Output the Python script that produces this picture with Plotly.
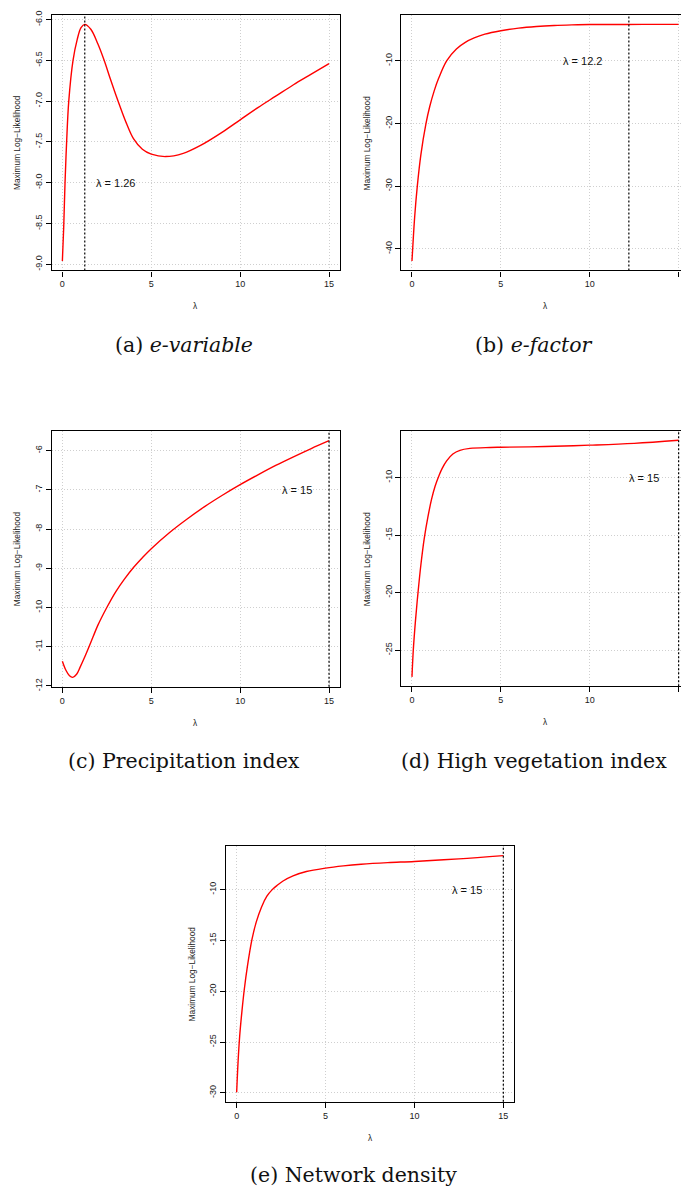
import plotly.graph_objects as go

FIG_W, FIG_H = 681, 1193

# Profile of the maximum log-likelihood over the Box-Cox parameter lambda
lam_evar = [0, 0.075, 0.15, 0.24, 0.36, 0.6, 0.83, 1.05, 1.26, 1.6, 2.0, 2.35, 2.7, 3.0,
            3.3, 3.6, 4.0, 4.5, 5.0, 5.8, 6.8, 7.8, 9.0, 10.0, 11.0, 12.0, 13.0, 14.0, 15.0]
ll_evar = [-8.96, -8.55, -8.0, -7.5, -7.0, -6.5, -6.25, -6.1, -6.06, -6.12, -6.3, -6.5, -6.73,
           -6.92, -7.1, -7.27, -7.46, -7.59, -7.65, -7.68, -7.64, -7.54, -7.38, -7.23, -7.08,
           -6.94, -6.8, -6.67, -6.54]

lam_efac = [0, 0.04, 0.15, 0.3, 0.5, 0.79, 1.0, 1.25, 1.5, 1.95, 2.5, 3.0, 3.5, 4.1, 5.0,
            6.0, 7.0, 8.0, 9.0, 10.0, 11.5, 13.0, 15.0]
ll_efac = [-41.95, -40.0, -35.0, -30.0, -25.0, -20.0, -17.3, -14.8, -12.8, -10.0, -8.1, -7.05,
           -6.35, -5.75, -5.2, -4.78, -4.52, -4.36, -4.27, -4.22, -4.2, -4.19, -4.19]

lam_prec = [0, 0.2, 0.4, 0.58, 0.8, 1.0, 1.25, 1.5, 1.75, 2.0, 2.5, 3.0, 3.5, 4.0, 4.5, 5.0,
            6.0, 7.0, 8.0, 9.0, 10.0, 11.0, 12.0, 13.0, 14.0, 15.0]
ll_prec = [-11.37, -11.6, -11.74, -11.78, -11.7, -11.52, -11.27, -11.0, -10.72, -10.45, -10.0,
           -9.6, -9.27, -8.98, -8.73, -8.5, -8.1, -7.75, -7.43, -7.14, -6.87, -6.62, -6.38,
           -6.16, -5.95, -5.75]

lam_veg = [0, 0.075, 0.2, 0.34, 0.5, 0.69, 0.9, 1.1, 1.3, 1.54, 1.7, 1.95, 2.3, 2.7, 3.26,
           4.4, 5.0, 7.5, 10.0, 12.5, 15.0]
ll_veg = [-27.33, -25.0, -22.4, -20.0, -17.6, -15.3, -13.4, -11.9, -10.75, -9.75, -9.2, -8.55,
          -7.95, -7.63, -7.46, -7.38, -7.36, -7.3, -7.18, -7.02, -6.75]

lam_net = [0, 0.08, 0.17, 0.3, 0.43, 0.6, 0.86, 1.1, 1.4, 1.7, 2.0, 2.3, 2.61, 3.17, 3.92,
           5.0, 6.0, 7.0, 8.5, 10.0, 12.5, 15.0]
ll_net = [-29.93, -26.9, -24.4, -21.9, -19.8, -17.6, -14.9, -13.2, -11.7, -10.65, -10.0, -9.55,
          -9.15, -8.65, -8.22, -7.88, -7.66, -7.5, -7.34, -7.23, -6.97, -6.65]

# Maximising lambda for each covariate
lam_opt = [1.26, 12.2, 15, 15, 15]

captions = ["(a) <i>e-variable</i>", "(b) <i>e-factor</i>", "(c) Precipitation index",
            "(d) High vegetation index", "(e) Network density"]

x_ticks = [0, 5, 10, 15]
x_ticktext = ["0", "5", "10", "15"]
y_ticks = [
    [-9.0, -8.5, -8.0, -7.5, -7.0, -6.5, -6.0],
    [-40, -30, -20, -10],
    [-12, -11, -10, -9, -8, -7, -6],
    [-25, -20, -15, -10],
    [-30, -25, -20, -15, -10],
]
y_ticktext = [
    ["-9.0", "-8.5", "-8.0", "-7.5", "-7.0", "-6.5", "-6.0"],
    ["-40", "-30", "-20", "-10"],
    ["-12", "-11", "-10", "-9", "-8", "-7", "-6"],
    ["-25", "-20", "-15", "-10"],
    ["-30", "-25", "-20", "-15", "-10"],
]

series = [(lam_evar, ll_evar), (lam_efac, ll_efac), (lam_prec, ll_prec),
          (lam_veg, ll_veg), (lam_net, ll_net)]

# where the "lambda = ..." note sits, in data units
note_pos = [(3.0, -8.0), (9.6, -10.0), (13.2, -7.0), (13.05, -10.0), (12.97, -10.0)]

# plot-region boxes in pixels: left, top (width and height shared)
BOX_W, BOX_H = 288.0, 257.5
boxes = [(51.7, 10.0), (401.3, 10.0), (51.7, 429.5), (401.3, 429.0), (226.0, 847.5)]
caption_xy = [(184, 343), (534, 343), (184, 762), (534, 762), (353, 1179)]

TICK_FONT = dict(family="Liberation Sans, Arial, sans-serif", size=9, color="#1a1a1a")
LAB_FONT = dict(family="Liberation Sans, Arial, sans-serif", size=8.3, color="#1a1a1a")
NOTE_FONT = dict(family="Liberation Sans, Arial, sans-serif", size=11, color="#111111")
CAP_FONT = dict(family="DejaVu Serif, serif", size=20.5, color="#111111")


def padded(lo, hi, frac=0.04):
    d = (hi - lo) * frac
    return lo - d, hi + d


fig = go.Figure()
layout = dict(width=FIG_W, height=FIG_H, margin=dict(l=0, r=0, t=0, b=0),
              paper_bgcolor="white", plot_bgcolor="white", showlegend=False)
annotations = []
shapes = []

for i, ((lam, ll), (left, top)) in enumerate(zip(series, boxes)):
    n = i + 1
    xname = "x" if n == 1 else f"x{n}"
    yname = "y" if n == 1 else f"y{n}"

    x0, x1 = padded(min(lam), max(lam))
    y0, y1 = padded(min(ll), max(ll))
    right = left + BOX_W
    clipped = right > FIG_W
    if clipped:
        # right-hand column runs off the page edge
        x1 = x0 + (x1 - x0) * (FIG_W - left) / BOX_W
        right = FIG_W

    common = dict(showline=True, linecolor="black", linewidth=1.3,
                  ticks="outside", ticklen=5, tickwidth=1, tickcolor="black",
                  showgrid=True, gridcolor="#cfcfcf", griddash="1px,2px", gridwidth=1,
                  zeroline=False, tickfont=TICK_FONT)
    layout["xaxis" if n == 1 else f"xaxis{n}"] = dict(
        domain=[left / FIG_W, right / FIG_W], range=[x0, x1], anchor=yname,
        tickmode="array", tickvals=x_ticks, ticktext=x_ticktext, mirror=True, **common)
    layout["yaxis" if n == 1 else f"yaxis{n}"] = dict(
        domain=[1 - (top + BOX_H) / FIG_H, 1 - top / FIG_H], range=[y0, y1], anchor=xname,
        tickmode="array", tickvals=y_ticks[i], ticktext=y_ticktext[i], tickangle=-90,
        mirror=not clipped, **common)

    fig.add_trace(go.Scatter(
        x=lam, y=ll, mode="lines", xaxis=xname, yaxis=yname, hoverinfo="skip",
        line=dict(color="#ff0000", width=1.4, shape="spline", smoothing=1.0)))

    shapes.append(dict(type="line", xref=xname, yref=f"{yname} domain",
                       x0=lam_opt[i], x1=lam_opt[i], y0=0, y1=1,
                       line=dict(color="black", width=1.2, dash="2px,2px")))

    nx, ny = note_pos[i]
    annotations.append(dict(xref=xname, yref=yname, x=nx, y=ny, showarrow=False,
                            text=f"λ = {lam_opt[i]:g}", font=NOTE_FONT,
                            xanchor="center", yanchor="middle"))
    annotations.append(dict(xref=f"{xname} domain", yref=f"{yname} domain", x=0, y=0.5,
                            xshift=-34.5, showarrow=False, textangle=-90,
                            text="Maximum Log\u2212Likelihood", font=LAB_FONT,
                            xanchor="center", yanchor="middle"))
    annotations.append(dict(xref=xname, yref=f"{yname} domain", x=7.5, y=0, yshift=-36,
                            showarrow=False, text="λ", font=LAB_FONT,
                            xanchor="center", yanchor="middle"))
    cx, cy = caption_xy[i]
    annotations.append(dict(xref="paper", yref="paper", x=cx / FIG_W, y=1 - cy / FIG_H,
                            showarrow=False, text=captions[i], font=CAP_FONT,
                            xanchor="center", yanchor="middle"))

layout["annotations"] = annotations
layout["shapes"] = shapes
fig.update_layout(**layout)
fig.write_html("out.html")
